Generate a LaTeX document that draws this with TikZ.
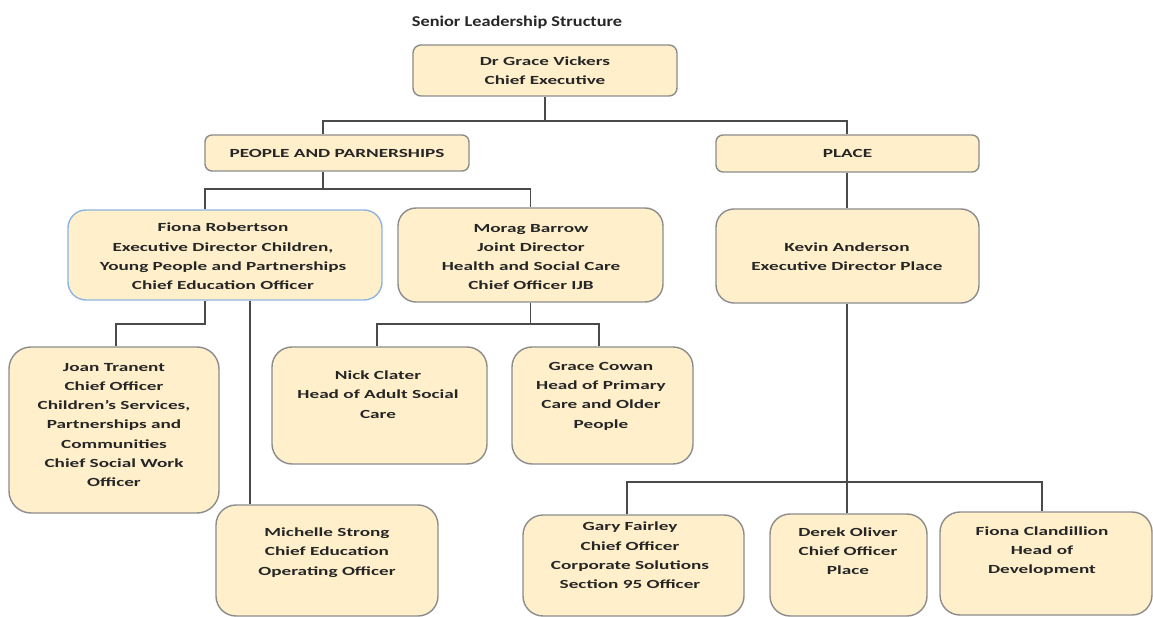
\documentclass[tikz,border=0pt]{standalone}
\usepackage{fontspec}
\setmainfont{Carlito}[FakeStretch=1.55]
\newfontfamily\titlefont{Carlito}[FakeStretch=1.22]
\definecolor{boxfill}{HTML}{FFF0CB}
\definecolor{boxline}{HTML}{8C8C8C}
\definecolor{blueline}{HTML}{8EB4E3}
\definecolor{connline}{HTML}{4A4A4A}
\begin{document}
\begin{tikzpicture}[x=1pt,y=-1pt,
  bx/.style={draw=boxline, fill=boxfill, line width=1.4pt, rounded corners=#1, inner sep=0pt},
  bx/.default=18pt,
  txt/.style={align=center, font=\bfseries\fontsize{12.4}{19.3}\selectfont, inner sep=0pt, text=black!85},
  conn/.style={draw=connline, line width=1.4pt}]
\useasboundingbox[fill=white] (0,0) rectangle (1153,617);

\node[font=\titlefont\bfseries\fontsize{15}{18}\selectfont, text=black!85] (title) at (517,22) {Senior Leadership Structure};

% boxes
\node[bx=8pt, minimum width=264pt, minimum height=51pt] (ceo) at (545,70.5) {};
\node[bx=7pt, minimum width=264pt, minimum height=36pt] (people) at (337,153) {};
\node[bx=7pt, minimum width=263pt, minimum height=37pt] (place) at (847.5,153.5) {};
\node[bx, draw=blueline, minimum width=314pt, minimum height=90pt] (fiona) at (225,255) {};
\node[bx, minimum width=265pt, minimum height=94pt] (morag) at (530.5,255) {};
\node[bx, minimum width=263pt, minimum height=94pt] (kevin) at (847.5,256) {};
\node[bx=22pt, minimum width=210pt, minimum height=166pt] (joan) at (114,430) {};
\node[bx=20pt, minimum width=215pt, minimum height=117pt] (nick) at (379.5,405.5) {};
\node[bx=20pt, minimum width=181pt, minimum height=117pt] (gracec) at (602.5,405.5) {};
\node[bx=20pt, minimum width=222pt, minimum height=111pt] (michelle) at (327,560.5) {};
\node[bx=20pt, minimum width=221pt, minimum height=101pt] (gary) at (633.5,565.5) {};
\node[bx=20pt, minimum width=157pt, minimum height=102pt] (derek) at (848.5,565) {};
\node[bx=20pt, minimum width=212pt, minimum height=103pt] (fionac) at (1046,563.5) {};

% texts
\node[txt] (ceoT) at (ceo.center) {Dr Grace Vickers\\Chief Executive};
\node[txt] (peopleT) at (people.center) {PEOPLE AND PARNERSHIPS};
\node[txt] (placeT) at (place.center) {PLACE};
\node[txt] (fionaT) at (223,256.5) {Fiona Robertson\\Executive Director Children,\\Young People and Partnerships\\Chief Education Officer};
\node[txt] (moragT) at (531,257) {Morag Barrow\\Joint Director\\Health and Social Care\\Chief Officer IJB};
\node[txt] (kevinT) at (847,257) {Kevin Anderson\\Executive Director Place};
\node[txt] (joanT) at (114,425) {Joan Tranent\\Chief Officer\\Children's Services,\\Partnerships and\\Communities\\Chief Social Work\\Officer};
\node[txt] (nickT) at (378,394.5) {Nick Clater\\Head of Adult Social\\Care};
\node[txt] (gracecT) at (601,396) {Grace Cowan\\Head of Primary\\Care and Older\\People};
\node[txt] (michelleT) at (327,552.5) {Michelle Strong\\Chief Education\\Operating Officer};
\node[txt] (garyT) at (630,555.5) {Gary Fairley\\Chief Officer\\Corporate Solutions\\Section 95 Officer};
\node[txt] (derekT) at (848,551) {Derek Oliver\\Chief Officer\\Place};
\node[txt] (fionacT) at (1042,551) {Fiona Clandillion\\Head of\\Development};

% connectors
\coordinate (h1) at (0,121);
\coordinate (h2) at (0,189);
\coordinate (h3) at (0,324);
\coordinate (h4) at (0,482);
\coordinate (xp) at (323,0);
\coordinate (xf) at (205,0);
\coordinate (xm) at (250,0);
\coordinate (xn) at (377,0);
\coordinate (xg) at (599,0);
\coordinate (xj) at (116,0);
\coordinate (xk) at (847,0);
\coordinate (xga) at (627,0);
\coordinate (xfc) at (1042,0);

\draw[conn] (ceo.south) -- (ceo.south |- h1) -| (place.north -| xk);
\draw[conn] (ceo.south |- h1) -| (people.north -| xp);
\draw[conn] (people.south -| xp) -- (xp |- h2) -| (fiona.north -| xf);
\draw[conn] (xp |- h2) -| (morag.north);
\draw[conn] (place.south -| xk) -- (kevin.north -| xk);
\draw[conn] (fiona.south -| xf) -- (xf |- h3) -| (joan.north -| xj);
\draw[conn] (fiona.south -| xm) -- (michelle.north -| xm);
\draw[conn] (morag.south) -- (morag.south |- h3) -| (nick.north -| xn);
\draw[conn] (morag.south |- h3) -| (gracec.north -| xg);
\draw[conn] (kevin.south -| xk) -- (derek.north -| xk);
\draw[conn] (xk |- h4) -| (gary.north -| xga);
\draw[conn] (xk |- h4) -| (fionac.north -| xfc);
\end{tikzpicture}
\end{document}
